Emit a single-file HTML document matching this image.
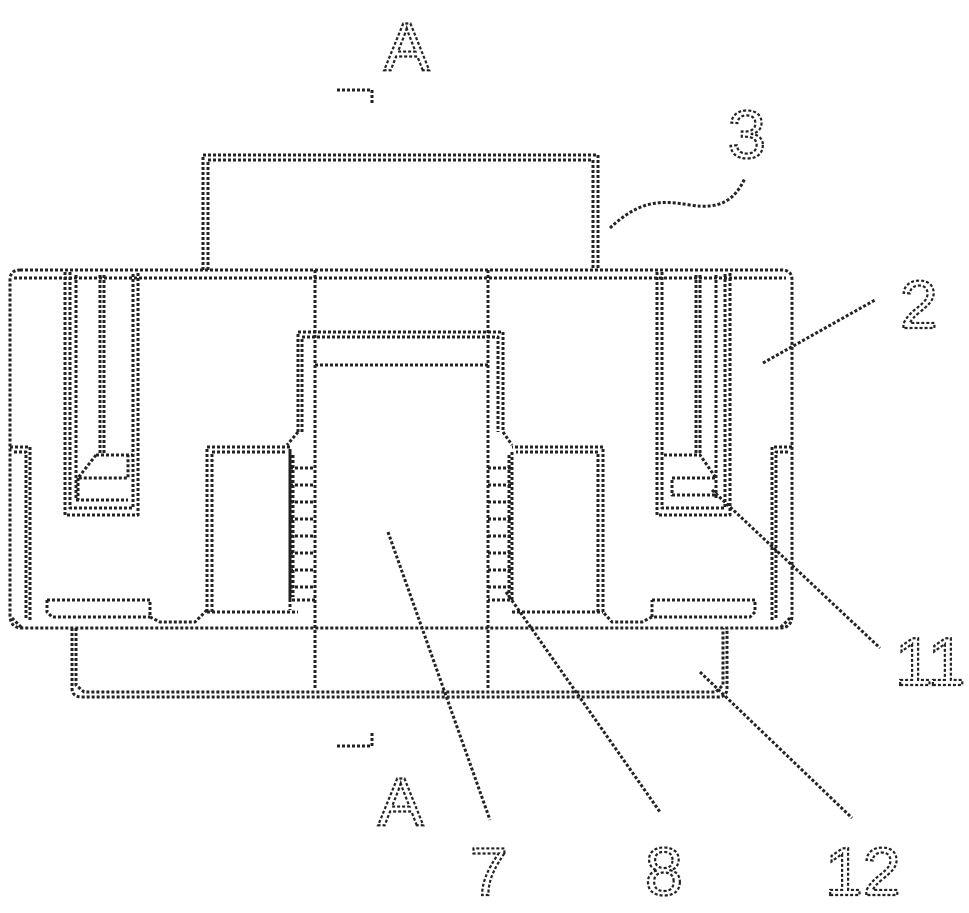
<!DOCTYPE html>
<html><head><meta charset="utf-8"><style>
html,body{margin:0;padding:0;background:#fff;}
svg{display:block;}
</style></head><body>
<svg width="969" height="913" viewBox="0 0 969 913" xmlns="http://www.w3.org/2000/svg">
<g fill="none" stroke="#222" stroke-width="3" stroke-dasharray="3 2" stroke-linejoin="round">
<path d="M203,270 V155 H598 V270"/>
<path d="M208,270 V160 H593 V270"/>
<path d="M20,270 H782 Q792,270 792,280 V615 Q792,628 780,628 H22 Q10,628 10,615 V280 Q10,270 20,270 Z"/>
<path d="M14,278 H786"/>
<path d="M12,618 L22,628"/>
<path d="M790,618 L780,628"/>
<path d="M10,447 H30 V622"/>
<path d="M14,452 H26 V618"/>
<path d="M792,447 H772 V622"/>
<path d="M788,452 H776 V618"/>
<path d="M72,628 V688 Q72,697 82,697 H718 Q727,697 727,688 V628"/>
<path d="M76,628 V685 L84,692 H716 L723,685 V628"/>
<path d="M315,270 V690"/>
<path d="M488,270 V690"/>
<path d="M65,272 V515 H138 V272"/>
<path d="M70,272 V508 H133 V272"/>
<path d="M76,275 V500 H128"/>
<path d="M100,275 V455"/>
<path d="M104,275 V455"/>
<path d="M96,455 H133 M96,455 L78,478 H128 V455 M78,478 V500"/>
<path d="M657,272 V515 H730 V272"/>
<path d="M662,272 V508 H725 V272"/>
<path d="M696,275 V455 M700,275 V455"/>
<path d="M716,275 V500"/>
<path d="M664,455 H700 L716,478 H672 V495 H716"/>
<path d="M47,600 H150 V617 M47,600 V612 L52,617 H150"/>
<path d="M652,600 H755 V612 L750,617 H652 V600"/>
<path d="M298,432 V332 H503 V432"/>
<path d="M302,432 V337 H498 V432"/>
<path d="M315,365 H488"/>
<path d="M298,432 L287,445 M503,432 L512,445"/>
<path d="M207,612 V447 H290 V610"/>
<path d="M212,612 V452 H286"/>
<path d="M150,617 L160,622 H195 L207,610 M207,612 H298"/>
<path d="M603,612 V447 H512"/>
<path d="M598,612 V452 H516"/>
<path d="M652,617 L642,622 H612 L603,612 M512,612 H603"/>
<path d="M290,452 V600 H315 M293,455 V597"/>
<path d="M512,452 V600 H488 M509,455 V597"/>
<path d="M290,468 H315 M290,485 H315 M290,502 H315 M290,519 H315 M290,536 H315 M290,553 H315 M290,570 H315 M290,587 H315"/>
<path d="M488,468 H512 M488,485 H512 M488,502 H512 M488,519 H512 M488,536 H512 M488,553 H512 M488,570 H512 M488,587 H512"/>
<path d="M610,228 C640,200 660,200 690,205 C720,210 735,200 745,178"/>
<path d="M763,363 L875,300"/>
<path d="M712,490 L880,648"/>
<path d="M700,672 L852,818"/>
<path d="M506,592 L660,812"/>
<path d="M388,532 L490,820"/>
<path d="M337,90 H372 V104"/>
<path d="M337,746 H372 V732"/>
</g>
<g font-family="Liberation Sans, sans-serif" font-size="68" fill="none" stroke="#222" stroke-width="2.2" stroke-dasharray="3 2">
<text x="384" y="70">A</text>
<text x="728" y="158">3</text>
<text x="900" y="328">2</text>
<text x="895" y="685">11</text>
<text x="378" y="825">A</text>
<text x="470" y="895">7</text>
<text x="645" y="895">8</text>
<text x="825" y="895">12</text>
</g>
</svg>
</body></html>
